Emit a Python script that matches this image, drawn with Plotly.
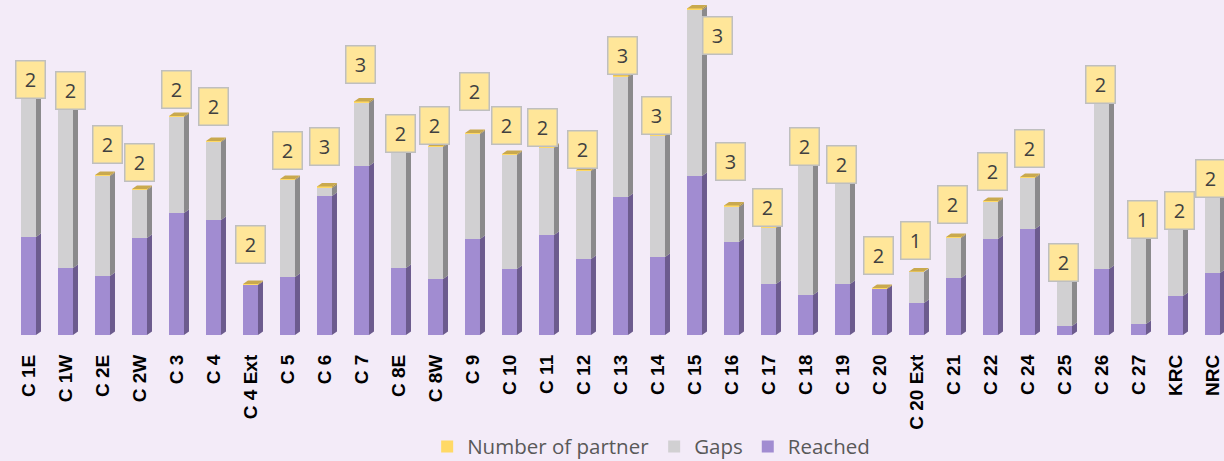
import numpy as np
import plotly.graph_objects as go

# ---------------- data ----------------
categories = ["C 1E", "C 1W", "C 2E", "C 2W", "C 3", "C 4", "C 4 Ext", "C 5", "C 6", "C 7",
              "C 8E", "C 8W", "C 9", "C 10", "C 11", "C 12", "C 13", "C 14", "C 15", "C 16",
              "C 17", "C 18", "C 19", "C 20", "C 20 Ext", "C 21", "C 22", "C 24", "C 25",
              "C 26", "C 27", "KRC", "NRC"]
reached = [196, 134, 118, 194, 244, 230, 100, 116, 278, 338, 134, 112, 192, 132, 200, 152,
           276, 156, 318, 186, 102, 80, 102, 92, 64, 114, 192, 212, 18, 132, 22, 78, 124]
gaps = [280, 320, 200, 96, 192, 156, 0, 194, 16, 126, 230, 264, 210, 228, 174, 176,
        240, 242, 332, 70, 112, 258, 200, 0, 62, 80, 74, 102, 88, 330, 170, 132, 150]
partners = [2, 2, 2, 2, 2, 2, 2, 2, 3, 3, 2, 2, 2, 2, 2, 2, 3, 3, 3, 3, 2, 2, 2, 2, 1, 2, 2, 2,
            2, 2, 1, 2, 2]

# ---------------- label placement (pixel offsets, style only) ----------------
label_lift_px = [17, 17, 31, 27, 27, 35, 40, 29, 40, 37, 19, 21, 42, 29, 20, 21, 20, 19, -27,
                 44, 20, 19, 19, 33, 31, 33, 30, 29, 19, 19, 19, 19, 19]
label_xshift_px = [2, 5, 5, 0, 0, 0, 0, 0, 0, -1, 2, -1, 2, -3, -4, -1, 2, -1, 23, -1, -1, -1,
                   -1, -1, -1, -1, 2, 2, -1, -1, 4, 4, -2]

# ---------------- styles ----------------
BG = "#F3EBF8"
PURPLE, PURPLE_SIDE = "#A18CD1", "#6C5B8E"
GRAY, GRAY_SIDE = "#D1D0D2", "#8B8A8C"
YELLOW, YELLOW_SIDE, YELLOW_TOP = "#FFD966", "#B39543", "#C9A94E"
W, DX, DY = 0.405, 0.135, 7.0

n = len(categories)
x = np.arange(n)
r = np.array(reached, float)
g = np.array(gaps, float)
p = np.array(partners, float)
top = r + g + p

fig = go.Figure()
fig.add_bar(x=x, y=r, width=W, name="Reached", marker=dict(color=PURPLE, line_width=0))
fig.add_bar(x=x, y=g, width=W, name="Gaps", marker=dict(color=GRAY, line_width=0))
fig.add_bar(x=x, y=p, width=W, name="Number of partner", marker=dict(color=YELLOW, line_width=0))


def side_faces(base, height):
    xs, ys = [], []
    for i in range(n):
        if height[i] <= 0:
            continue
        x0 = x[i] + W / 2
        x1 = x0 + DX
        y0 = base[i]
        y1 = base[i] + height[i]
        xs += [x0, x1, x1, x0, x0, None]
        ys += [y0, y0 + DY, y1 + DY, y1, y0, None]
    return xs, ys


for base, h, col in [(np.zeros(n), r, PURPLE_SIDE), (r, g, GRAY_SIDE), (r + g, p, YELLOW_SIDE)]:
    xs, ys = side_faces(base, h)
    fig.add_scatter(x=xs, y=ys, mode="lines", fill="toself", fillcolor=col,
                    line=dict(width=0, color=col), hoverinfo="skip", showlegend=False)

# top faces
xs, ys = [], []
for i in range(n):
    t = top[i]
    xs += [x[i] - W / 2, x[i] + W / 2, x[i] + W / 2 + DX, x[i] - W / 2 + DX, x[i] - W / 2, None]
    ys += [t, t, t + DY, t + DY, t, None]
fig.add_scatter(x=xs, y=ys, mode="lines", fill="toself", fillcolor=YELLOW_TOP,
                line=dict(width=0, color=YELLOW_TOP), hoverinfo="skip", showlegend=False)

# labels
for i in range(n):
    fig.add_annotation(x=x[i], y=top[i], text=str(partners[i]), showarrow=False,
                       xanchor="center", yanchor="middle",
                       xshift=label_xshift_px[i], yshift=label_lift_px[i],
                       font=dict(family="Open Sans", size=20, color="#404040"),
                       bgcolor="#FFE699", bordercolor="#BFBFBF", borderwidth=1.5,
                       borderpad=2, width=24, height=32)

fig.update_layout(
    width=1224, height=461,
    barmode="stack",
    bargap=0,
    paper_bgcolor=BG, plot_bgcolor=BG,
    margin=dict(l=0, r=0, t=0, b=126, autoexpand=False),
    showlegend=True,
    legend=dict(orientation="h", traceorder="reversed", x=0.532, xanchor="center",
                y=-0.333, yanchor="middle", bgcolor="rgba(0,0,0,0)", itemwidth=30,
                tracegroupgap=0, borderwidth=0,
                font=dict(family="Open Sans", size=20.5, color="#595959")),
    xaxis=dict(range=[-28.5 / 37, (1224 - 28.5) / 37], tickmode="array", tickvals=x,
               ticktext=categories, tickangle=-90, showgrid=False, zeroline=False,
               showline=False, ticks="", ticklabelstandoff=15, automargin=False,
               tickfont=dict(family="Liberation Sans", size=19, color="black", weight="bold")),
    yaxis=dict(range=[0, 670], visible=False, showgrid=False, zeroline=False, automargin=False),
)

fig.write_html("out.html", config={"displayModeBar": False},
               post_script="document.body.style.margin='0';document.body.style.background='%s';" % BG)
